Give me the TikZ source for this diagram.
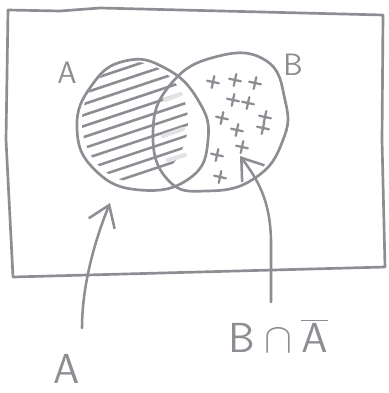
\documentclass[tikz,border=0pt]{standalone}
\usepackage{tikz}
\usetikzlibrary{
    arrows.meta,                      % open barb tips
    calc                              % coordinate arithmetic
}
\definecolor{pencil}{RGB}{140,142,147}
\tikzset{
    outline/.style={
        draw=pencil, line width=1.9pt,
        line join=round, line cap=round
    },
    hatch/.style={
        draw=pencil, line width=1.8pt, line cap=round
    },
    plus/.style={
        draw=pencil, line width=1.6pt, line cap=round
    },
    pointer/.style={
        draw=pencil, line width=1.8pt, line cap=round,
        -{Straight Barb[length=5mm, width=7mm, line width=1.8pt]}
    },
    tag/.style={
        text=pencil, inner sep=0pt,
        font=\sffamily\fontsize{22}{24}\selectfont
    },
    bigtag/.style={
        text=pencil, inner sep=0pt,
        font=\sffamily\Huge, scale=1.2
    }
}

\begin{document}
\begin{tikzpicture}[x=0.025cm, y=-0.025cm]
    \useasboundingbox (0,0) rectangle (388,393);
    % universe
    \draw[outline] (8,10) -- (60,11) -- (100,8) -- (383,15)
        -- (382,140) -- (385,267) -- (13,277) -- (6,140) -- cycle;
    % hatching of A
    \begin{scope}
        \clip (135,122) ellipse [x radius=53, y radius=60];
        \foreach \k in {0,...,10}
            \draw[hatch] (60,{90+11*\k}) -- (210,{40+11*\k});
    \end{scope}
    % faint smudges in the lens
    \foreach \a/\b in {{165,100}/{181,94}, {163,136}/{183,129}, {168,160}/{185,155}}
        \draw[hatch, draw=pencil!25, line width=3pt] (\a) -- (\b);
    % the two sets
    \draw[outline] plot[smooth cycle, tension=0.8] coordinates {
        (77,128) (92,85) (125,61) (165,68) (198,100)
        (208,140) (190,178) (140,190) (95,170)};
    \draw[outline] plot[smooth cycle, tension=0.8] coordinates {
        (153,133) (170,85) (215,57) (265,60) (285,100)
        (283,140) (255,178) (207,191) (168,180)};
    % crosses in B only
    \foreach \p in {{213,82},{235,80},{255,83},{233,100},{248,103},{222,118},
                    {265,117},{237,130},{263,128},{217,155},{242,147},{220,177}}
        \draw[plus, rotate around={-12:(\p)}] (\p) +(-6,0) -- +(6,0) +(0,-6) -- +(0,6);
    % labels
    \node[tag] (setA) at (67,73) {A};
    \node[tag] (setB) at (293,65) {B};
    \node[bigtag] (labA) at (67,369) {A};
    \node[bigtag] (labBA) at (278,336)
        {$\mathsf{B}\cap\overline{\mathsf{A}}$};
    % pointers
    \coordinate (tailA) at (82,328);
    \coordinate (tipA) at (110,203);
    \coordinate (tailB) at (271,302);
    \coordinate (tipB) at (240,156);
    \draw[pointer] (tailA) .. controls (82,285) and (95,240) .. (tipA);
    \draw[pointer] (tailB) -- (271,240) .. controls (270,200) and (258,180) .. (tipB);
\end{tikzpicture}
\end{document}
